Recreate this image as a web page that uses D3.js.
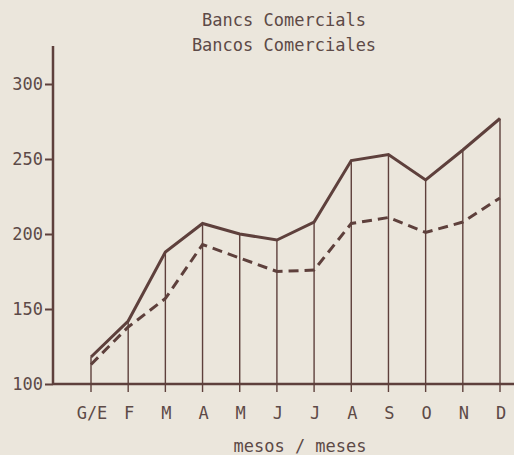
<!DOCTYPE html>
<html>
<head>
<meta charset="utf-8">
<script src="https://cdn.jsdelivr.net/npm/d3@7"></script>
<style>
  body { margin: 0; background: #ebe6dc; }
  svg { display: block; }
  text { font-family: "DejaVu Sans Mono", monospace; fill: #5d4a47; }
</style>
</head>
<body>
<script>
var width = 514,
    height = 455;

var months = ["G/E", "F", "M", "A", "M", "J", "J", "A", "S", "O", "N", "D"];
var solidValues = [118, 142, 188, 207, 200, 196, 208, 249, 253, 236, 256, 277];
var dashedValues = [113, 138, 157, 193, 184, 175, 176, 207, 211, 201, 208, 224];
var yTicks = [100, 150, 200, 250, 300];
var titleLines = ["Bancs Comercials", "Bancos Comerciales"];
var xTitle = "mesos / meses";

var ink = "#5e403c";

var svg = d3.select("body").append("svg").attr("width", width).attr("height", height);

var X = d3.scalePoint().domain(d3.range(months.length)).range([91, 500]);
var Y = d3.scaleLinear().domain([100, 300]).range([384, 84]);

// title
svg.selectAll(".title").data(titleLines).enter().append("text").attr("class", "title")
	.attr("x", 284)
	.attr("y", function(d, i) { return 26 + i * 25 })
	.attr("text-anchor", "middle")
	.style("font-size", "17px")
	.text(function(d) { return d })

// y axis
var yAxis = d3.axisLeft(Y).tickValues(yTicks).tickSize(8).tickPadding(2);
var gy = svg.append("g").attr("transform", "translate(53,0)").call(yAxis);
gy.select(".domain").remove();
gy.selectAll(".tick line").attr("stroke", ink).attr("stroke-width", 2);
gy.selectAll(".tick text").style("font-size", "17px").style("fill", "#5d4a47");
gy.append("line").attr("x1", 0).attr("x2", 0).attr("y1", 46).attr("y2", Y(100))
	.attr("stroke", ink).attr("stroke-width", 2.5);

// x axis
svg.append("line").attr("x1", 53).attr("x2", width).attr("y1", Y(100)).attr("y2", Y(100))
	.attr("stroke", ink).attr("stroke-width", 2.5);

var data = months.map(function(m, i) {
	return { i: i, month: m, solid: solidValues[i], dashed: dashedValues[i] }
});

// drop lines from the solid series to below the axis
svg.selectAll(".drop").data(data).enter().append("line").attr("class", "drop")
	.attr("x1", function(d) { return X(d.i) })
	.attr("x2", function(d) { return X(d.i) })
	.attr("y1", function(d) { return Y(d.solid) })
	.attr("y2", Y(100) + 8)
	.attr("stroke", ink)
	.attr("stroke-width", 1.4)

svg.selectAll(".mlabel").data(data).enter().append("text").attr("class", "mlabel")
	.attr("x", function(d) { return X(d.i) + 1 })
	.attr("y", 419)
	.attr("text-anchor", "middle")
	.style("font-size", "17px")
	.text(function(d) { return d.month })

var lineSolid = d3.line().x(function(d) { return X(d.i) }).y(function(d) { return Y(d.solid) });
var lineDashed = d3.line().x(function(d) { return X(d.i) }).y(function(d) { return Y(d.dashed) });

svg.append("path").datum(data).attr("d", lineDashed)
	.attr("fill", "none").attr("stroke", ink).attr("stroke-width", 3)
	.attr("stroke-dasharray", "10,6")

svg.append("path").datum(data).attr("d", lineSolid)
	.attr("fill", "none").attr("stroke", ink).attr("stroke-width", 3)
	.attr("stroke-linejoin", "miter")

svg.append("text")
	.attr("x", 300)
	.attr("y", 452)
	.attr("text-anchor", "middle")
	.style("font-size", "17px")
	.text(xTitle)
</script>
</body>
</html>
